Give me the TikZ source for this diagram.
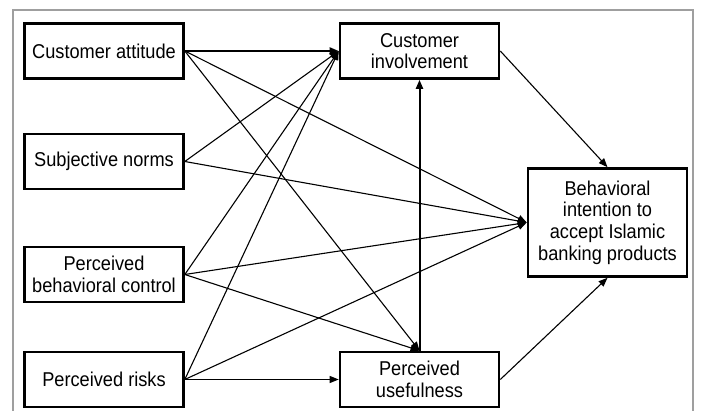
\documentclass[tikz,border=0pt]{standalone}
\usepackage{fontspec}
\setmainfont{Liberation Sans}[FakeStretch=0.91]
\usetikzlibrary{arrows.meta}

\begin{document}
\begin{tikzpicture}[x=1pt, y=-1pt,
  box/.style={draw, line width=2.6pt, minimum width=159pt, minimum height=55pt, align=center, inner sep=2pt, font=\fontsize{20}{21.7}\selectfont},
  link/.style={-{Triangle[length=9pt,width=7pt]}, line width=1.1pt},
  strong/.style={line width=2pt}]
\useasboundingbox (0,0) rectangle (702,411);
\draw[gray!75, line width=1.4pt] (13,411) -- (13,10) -- (693,10) -- (693,411);
\node[box] (attitude) at (104,51) {Customer attitude};
\node[box] (norms) at (104,161.5) {Subjective norms};
\node[box] (control) at (104,274.5) {Perceived\\behavioral control};
\node[box] (risks) at (104,379.5) {Perceived risks};
\node[box] (involve) at (419.5,51) {Customer\\involvement};
\node[box] (useful) at (419.5,379.5) {Perceived\\usefulness};
\node[box, minimum height=108pt] (intent) at (607.5,222.5) {Behavioral\\intention to\\accept Islamic\\banking products};
\draw[link, strong] (attitude.east) -- (involve.west);
\draw[link] (attitude.east) -- (intent.west);
\draw[link] (attitude.east) -- (useful.north);
\draw[link] (norms.east) -- (involve.west);
\draw[link] (norms.east) -- (intent.west);
\draw[link] (control.east) -- (involve.west);
\draw[link] (control.east) -- (intent.west);
\draw[link] (control.east) -- (useful.north);
\draw[link] (risks.east) -- (involve.west);
\draw[link] (risks.east) -- (intent.west);
\draw[link] (risks.east) -- (useful.west);
\draw[link, strong] (useful.north) -- (involve.south);
\draw[link] (involve.east) -- (intent.north);
\draw[link] (useful.east) -- (intent.south);
\end{tikzpicture}
\end{document}
